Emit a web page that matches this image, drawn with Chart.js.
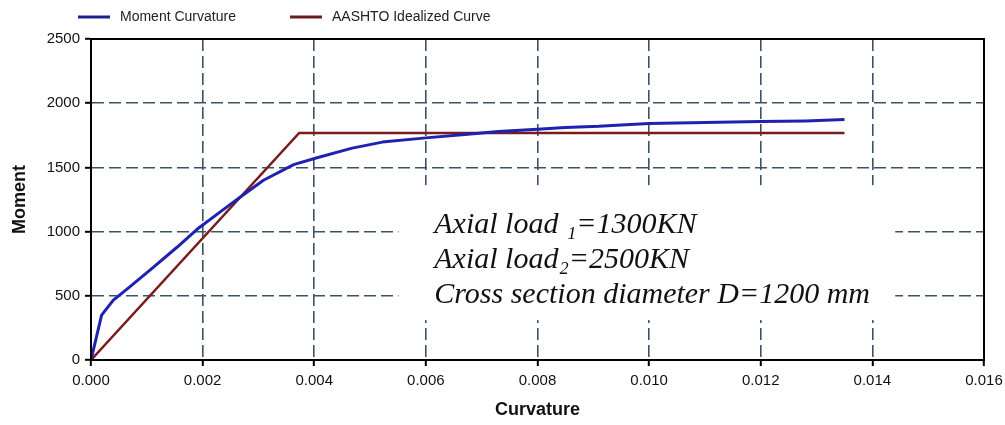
<!DOCTYPE html>
<html>
<head>
<meta charset="utf-8">
<script src="https://cdn.jsdelivr.net/npm/chart.js@4/dist/chart.umd.min.js"></script>
<style>
  html, body { margin: 0; padding: 0; background: #fff; }
  #wrap { width: 1005px; height: 425px; }
</style>
</head>
<body>
<div id="wrap"><canvas id="grafico" width="1005" height="425"></canvas></div>
<script>
// moment-curvature curve
const curvatura = [0, 0.00019, 0.0004, 0.0007, 0.00112, 0.00154, 0.0019, 0.00231, 0.00267, 0.00309, 0.00363, 0.00405, 0.00468, 0.00522, 0.006, 0.0067, 0.0073, 0.008, 0.0085, 0.0091, 0.0095, 0.010, 0.011, 0.012, 0.0128, 0.0135];
const momento = [0, 350, 466, 572, 724, 878, 1018, 1152, 1268, 1400, 1522, 1575, 1650, 1697, 1730, 1756, 1780, 1797, 1811, 1820, 1830, 1841, 1850, 1857, 1862, 1873];

// AASHTO idealized (bilinear)
const curvIdeal = [0, 0.00373, 0.0135];
const momIdeal = [0, 1768, 1768];

const xTicks = [0, 0.002, 0.004, 0.006, 0.008, 0.010, 0.012, 0.014, 0.016];
const yTicks = [0, 500, 1000, 1500, 2000, 2500];

const legendas = ['Moment Curvature', 'AASHTO Idealized Curve'];
const notas = ['Axial load \u2081=1300KN', 'Axial load\u2082=2500KN', 'Cross section diameter D=1200 mm'];

const AZUL = '#1f22b0';
const VERMELHO = '#7a1c1c';
const GRADE = '#3b5269';

const toXY = (xs, ys) => xs.map((x, i) => ({ x: x, y: ys[i] }));

// white box + italic notes inside the plot
const notasPlugin = {
  id: 'notas',
  beforeDatasetsDraw(chart) {
    const { ctx, scales: { x, y } } = chart;
    const x0 = x.getPixelForValue(0.00551), x1 = x.getPixelForValue(0.01441);
    const y0 = y.getPixelForValue(1362), y1 = y.getPixelForValue(311);
    ctx.save();
    ctx.fillStyle = '#fff';
    ctx.fillRect(x0, y0, x1 - x0, y1 - y0);
    ctx.restore();
  },
  afterDraw(chart) {
    const { ctx, scales: { x, y }, chartArea } = chart;
    ctx.save();
    ctx.fillStyle = '#111';
    ctx.font = 'italic 30px "Liberation Serif"';
    ctx.textBaseline = 'alphabetic';
    const tx = x.getPixelForValue(0.00615);
    [989, 716, 444].forEach((m, i) => ctx.fillText(notas[i], tx, y.getPixelForValue(m)));

    // frame: top and right edges
    ctx.strokeStyle = '#000';
    ctx.lineWidth = 2;
    ctx.strokeRect(chartArea.left, chartArea.top, chartArea.right - chartArea.left, chartArea.bottom - chartArea.top);

    // legend
    const itens = [[78, '#1c2190'], [290, '#6a1c1c']];
    ctx.font = '14px "Liberation Sans"';
    ctx.textBaseline = 'middle';
    itens.forEach(([lx, cor], i) => {
      ctx.strokeStyle = cor;
      ctx.lineWidth = 3;
      ctx.beginPath();
      ctx.moveTo(lx, 17);
      ctx.lineTo(lx + 32, 17);
      ctx.stroke();
      ctx.fillStyle = '#222';
      ctx.fillText(legendas[i], lx + 42, 17);
    });
    ctx.restore();
  }
};

const ctx = document.getElementById('grafico').getContext('2d');
new Chart(ctx, {
  type: 'scatter',
  data: {
    datasets: [
      {
        label: legendas[0],
        data: toXY(curvatura, momento),
        showLine: true,
        borderColor: AZUL,
        borderWidth: 3,
        borderJoinStyle: 'round',
        pointRadius: 0,
        tension: 0
      },
      {
        label: legendas[1],
        data: toXY(curvIdeal, momIdeal),
        showLine: true,
        borderColor: VERMELHO,
        borderWidth: 2.5,
        pointRadius: 0,
        tension: 0
      }
    ]
  },
  options: {
    responsive: false,
    animation: false,
    layout: { padding: { top: 39, right: 21, left: 0, bottom: 0 } },
    plugins: {
      legend: { display: false },
      tooltip: { enabled: false }
    },
    scales: {
      x: {
        type: 'linear',
        min: 0,
        max: 0.016,
        afterBuildTicks: s => { s.ticks = xTicks.map(v => ({ value: v })); },
        afterFit: s => { s.height = 65; s.paddingRight = 21; },
        ticks: {
          color: '#111',
          font: { family: 'Liberation Sans', size: 15 },
          padding: 6,
          maxRotation: 0,
          callback: v => v.toFixed(3)
        },
        grid: {
          color: GRADE,
          lineWidth: 1.6,
          tickColor: '#000',
          tickWidth: 2,
          tickLength: 6
        },
        border: { color: '#000', width: 2, dash: [12, 5] },
        title: {
          display: true,
          text: 'Curvature',
          color: '#111',
          font: { family: 'Liberation Sans', size: 18, weight: 'bold' },
          padding: { top: 0, bottom: 4 }
        }
      },
      y: {
        type: 'linear',
        min: 0,
        max: 2500,
        afterBuildTicks: s => { s.ticks = yTicks.map(v => ({ value: v })); },
        afterFit: s => { s.width = 91; },
        ticks: {
          color: '#111',
          font: { family: 'Liberation Sans', size: 15 },
          padding: 5,
          callback: v => String(v)
        },
        grid: {
          color: GRADE,
          lineWidth: 1.6,
          tickColor: '#000',
          tickWidth: 2,
          tickLength: 6
        },
        border: { color: '#000', width: 2, dash: [12, 5] },
        title: {
          display: true,
          text: 'Moment',
          color: '#111',
          font: { family: 'Liberation Sans', size: 18, weight: 'bold' },
          padding: { top: 9, bottom: 0 }
        }
      }
    }
  },
  plugins: [notasPlugin]
});
</script>
</body>
</html>
